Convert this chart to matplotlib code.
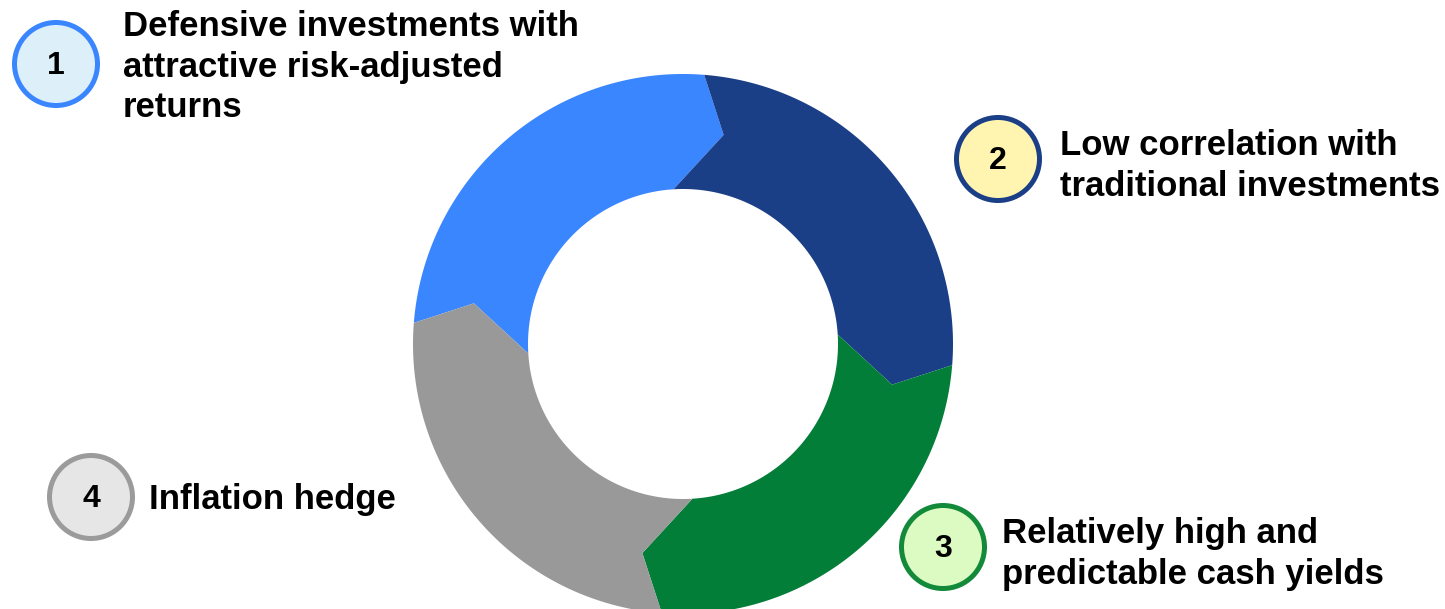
import numpy as np
import matplotlib
matplotlib.use("Agg")
import matplotlib.pyplot as plt
from matplotlib.patches import Polygon, Circle

# four equal building blocks of the ring, clockwise from 9 o'clock
shares = [25, 25, 25, 25]
numbers = ["1", "2", "3", "4"]
labels = [
    "Defensive investments with\nattractive risk-adjusted\nreturns",
    "Low correlation with\ntraditional investments",
    "Relatively high and\npredictable cash yields",
    "Inflation hedge",
]
seg_colors = ["#3A86FF", "#1B3F87", "#037E38", "#999999"]
badge_fill = ["#DDF0FA", "#FFF5B0", "#DCFBC2", "#E6E6E6"]
badge_edge = ["#3A86FF", "#1B3F87", "#13893A", "#9B9B9B"]

W, H = 1445, 609
fig = plt.figure(figsize=(W / 100, H / 100), dpi=100)
ax = fig.add_axes([0, 0, 1, 1])
ax.set_xlim(0, W)
ax.set_ylim(H, 0)
ax.axis("off")

cx, cy = 683, 344
r_out, r_in, r_tip = 270, 155, 213
off_out, off_in, off_tip = -4.5, 3.5, -11.0


def pt(r, deg):
    a = np.radians(deg)
    return cx + r * np.cos(a), cy - r * np.sin(a)


bounds = 180 - 360 * np.concatenate([[0], np.cumsum(shares)]) / sum(shares)

for i in range(len(shares)):
    b0, b1 = bounds[i], bounds[i + 1]
    pts = []
    for a in np.linspace(b0 + off_out, b1 + off_out, 200):
        pts.append(pt(r_out, a))
    pts.append(pt(r_tip, b1 + off_tip))
    for a in np.linspace(b1 + off_in, b0 + off_in, 200):
        pts.append(pt(r_in, a))
    pts.append(pt(r_tip, b0 + off_tip))
    ax.add_patch(Polygon(pts, closed=True, facecolor=seg_colors[i],
                         edgecolor="none", antialiased=True))

# badges and labels
badge_xy = [(56, 64), (998, 159), (943, 547), (91, 497)]
text_xy = [(123, 67), (1060, 166), (1002, 554), (149, 499)]
for i in range(len(labels)):
    bx, by = badge_xy[i]
    ax.add_patch(Circle((bx, by), 41.5, facecolor=badge_fill[i],
                        edgecolor=badge_edge[i], linewidth=3.6))
    ax.text(bx, by + 2, numbers[i], ha="center", va="center",
            fontsize=23, fontweight="bold", family="Liberation Sans")
    tx, ty = text_xy[i]
    ax.text(tx, ty, labels[i], ha="left", va="center", fontsize=25,
            fontweight="bold", family="Liberation Sans", linespacing=1.27)

fig.savefig("out.png", dpi=100)
